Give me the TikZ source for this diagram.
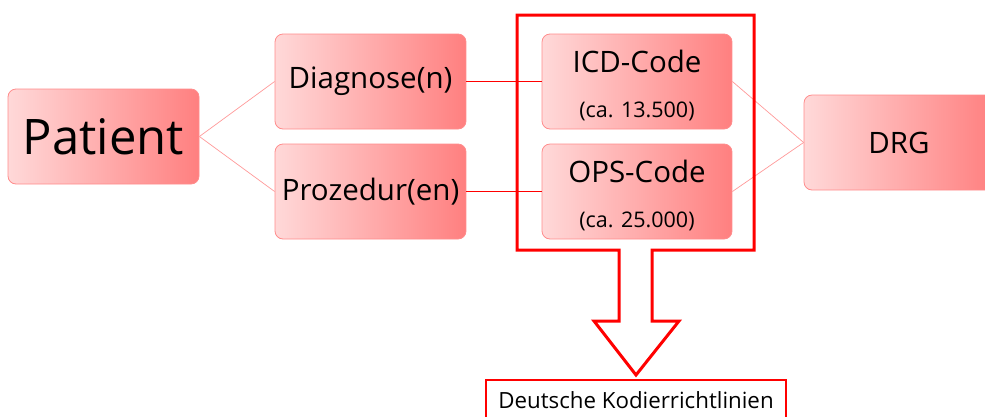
\documentclass[tikz,border=0pt]{standalone}
\usepackage{fontspec}
\setmainfont{Open Sans}
\definecolor{linkred}{RGB}{255,0,0}

\begin{document}
\begin{tikzpicture}[x=1pt,y=-1pt,
    box/.style={draw=red!45,line width=0.8pt,rounded corners=8pt,
        left color=red!15,right color=red!50,
        minimum width=191pt,minimum height=95pt,inner sep=0pt,
        align=center,font=\fontsize{29.5}{43}\selectfont},
    thinlink/.style={color=red!40,line width=0.7pt},
    redlink/.style={color=linkred,line width=1.3pt}]
    \clip (0,0) rectangle (985,416);
    \node[box,font=\fontsize{49}{55}\selectfont] (patient) at (103.5,136.5) {Patient};
    \node[box] (diag) at (370.5,81.5) {Diagnose(n)};
    \node[box] (proz) at (370.5,191.5) {Prozedur(en)};
    \node[box,minimum width=190pt] (icd) at (637,81.5) {\rule{0pt}{30pt}ICD-Code\\[2pt]{\fontsize{21.5}{43}\selectfont (ca. 13.500)}};
    \node[box,minimum width=190pt] (ops) at (637,191.5) {\rule{0pt}{30pt}OPS-Code\\[2pt]{\fontsize{21.5}{43}\selectfont (ca. 25.000)}};
    \node[box,minimum width=190pt] (drg) at (899,142.5) {DRG};
    \draw[redlink] (diag.east) -- (icd.west);
    \draw[redlink] (proz.east) -- (ops.west);
    \draw[thinlink] (patient.east) -- (diag.west);
    \draw[thinlink] (patient.east) -- (proz.west);
    \draw[thinlink] (icd.east) -- (drg.west);
    \draw[thinlink] (ops.east) -- (drg.west);
    \draw[red,line width=3pt] (619,250) -- (517,250) -- (517,15) -- (754,15) -- (754,250)
        -- (652,250) -- (652,321) -- (679,321) -- (636,375) -- (594,321) -- (619,321) -- cycle;
    \node[draw=red,line width=1.4pt,fill=white,minimum width=300pt,minimum height=40pt,inner sep=0pt,
        font=\fontsize{22.3}{26}\selectfont] (dkr) at (636,400) {Deutsche Kodierrichtlinien};
\end{tikzpicture}
\end{document}
